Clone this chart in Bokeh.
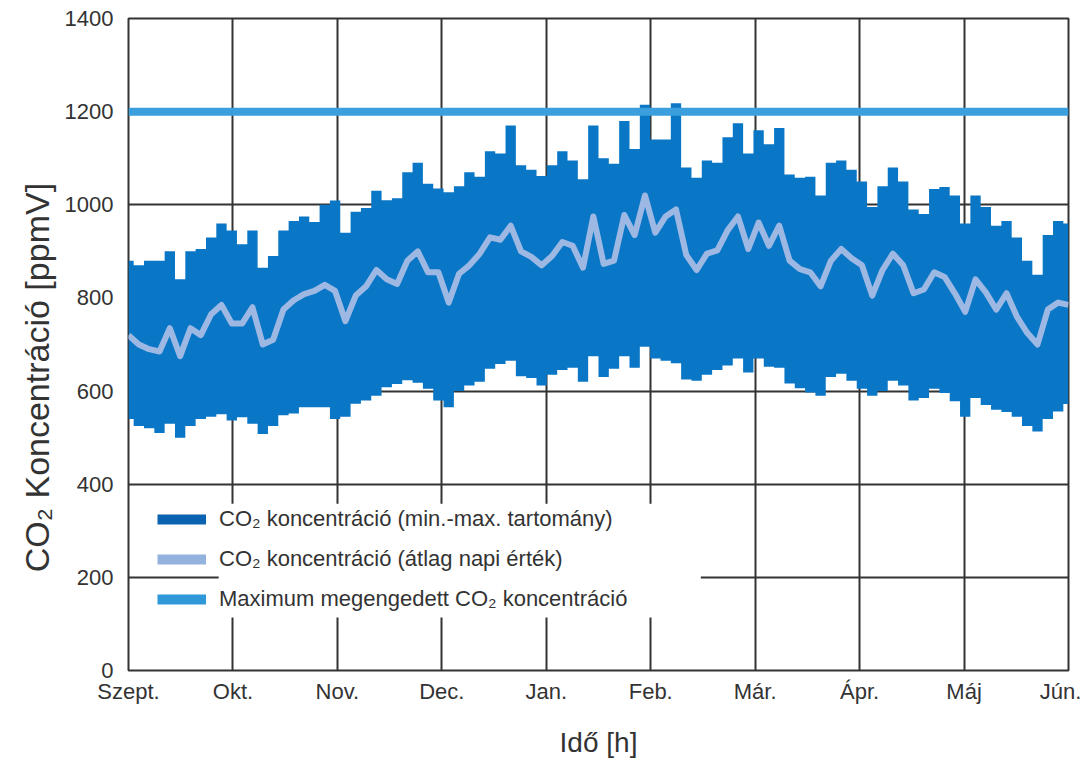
import numpy as np
from bokeh.plotting import figure
from bokeh.models import Range1d, FixedTicker, Span, Legend, LegendItem, BoxAnnotation
from bokeh.embed import file_html
from bokeh.resources import INLINE

# ---------------- data ----------------
month_labels = ["Szept.", "Okt.", "Nov.", "Dec.", "Jan.", "Feb.", "Már.", "Ápr.", "Máj", "Jún."]
hours_per_month = 730
y_ticks = [0, 200, 400, 600, 800, 1000, 1200, 1400]
limit_ppm = 1200

# upper envelope of hourly CO2 (read every ~3 days)
co2_max = [880, 870, 880, 880, 900, 840, 900, 905, 930, 960,
           945, 915, 945, 865, 890, 945, 965, 975, 963, 1000,
           1009, 940, 985, 993, 1030, 1010, 1014, 1070, 1090, 1045,
           1035, 1027, 1040, 1070, 1060, 1115, 1110, 1170, 1085, 1075,
           1062, 1085, 1115, 1095, 1055, 1170, 1100, 1088, 1180, 1120,
           1215, 1140, 1140, 1218, 1080, 1058, 1095, 1090, 1145, 1175,
           1110, 1160, 1130, 1165, 1065, 1058, 1060, 1020, 1090, 1095,
           1075, 1050, 995, 1040, 1080, 1050, 990, 980, 1034, 1038,
           1020, 960, 1020, 995, 955, 965, 930, 880, 850, 935,
           965, 960]
# lower envelope
co2_min = [540, 525, 520, 510, 530, 500, 525, 540, 545, 550,
           537, 544, 530, 508, 525, 548, 552, 565, 565, 565,
           540, 545, 573, 580, 590, 608, 615, 623, 618, 605,
           580, 565, 600, 612, 620, 648, 658, 665, 632, 628,
           612, 635, 645, 650, 620, 675, 630, 648, 675, 650,
           695, 670, 665, 660, 625, 622, 635, 645, 655, 670,
           640, 670, 652, 650, 616, 606, 597, 590, 630, 637,
           622, 605, 590, 600, 622, 612, 580, 585, 605, 596,
           578, 545, 585, 570, 560, 555, 545, 525, 513, 540,
           556, 572]
# daily mean
co2_mean = [720, 700, 690, 685, 735, 675, 735, 720, 765, 785,
            745, 745, 780, 700, 710, 775, 795, 808, 815, 828,
            815, 750, 805, 825, 860, 840, 830, 880, 900, 855,
            855, 790, 852, 870, 895, 930, 925, 955, 900, 888,
            870, 890, 920, 912, 865, 975, 873, 880, 978, 935,
            1020, 940, 975, 990, 892, 860, 895, 902, 945, 975,
            905, 962, 912, 955, 880, 862, 855, 825, 880, 905,
            885, 870, 805, 860, 895, 870, 810, 818, 855, 845,
            810, 770, 840, 812, 775, 810, 760, 725, 700, 775,
            790, 785]

n_months = len(month_labels) - 1
t_end = n_months * hours_per_month
t_hours = np.linspace(0, t_end, len(co2_max))
month_ticks = [i * hours_per_month for i in range(len(month_labels))]

# ---------------- style ----------------
FONT = "Liberation Sans"
TXT = "#333333"
GRID = "#333333"
BAND = "#0A77C6"
MEAN = "#9DB8E3"
LIMIT = "#3A9FDC"
NB = "\u00a0"

p = figure(width=1087, height=764, output_backend="svg", toolbar_location=None,
           x_range=Range1d(0, t_end), y_range=Range1d(0, 1400),
           min_border_left=128, min_border_right=19, min_border_top=18, min_border_bottom=94)
p.background_fill_color = "white"
p.border_fill_color = "white"
p.outline_line_color = GRID
p.outline_line_width = 2

# grids
p.xaxis.ticker = FixedTicker(ticks=month_ticks)
p.yaxis.ticker = FixedTicker(ticks=y_ticks)
for g in (p.xgrid, p.ygrid):
    g.grid_line_color = GRID
    g.grid_line_width = 2
    g.grid_line_alpha = 1.0

# axes
overrides = {t: lab for t, lab in zip(month_ticks, month_labels)}
overrides[month_ticks[-1]] = month_labels[-1] + NB
p.xaxis.major_label_overrides = overrides
for ax in (p.xaxis, p.yaxis):
    ax.axis_line_color = None
    ax.major_tick_line_color = None
    ax.minor_tick_line_color = None
    ax.major_tick_in = 0
    ax.major_tick_out = 0
    ax.major_label_text_font = FONT
    ax.major_label_text_font_size = "22px"
    ax.major_label_text_color = TXT
    ax.axis_label_text_font = FONT
    ax.axis_label_text_font_style = "normal"
    ax.axis_label_text_color = TXT
p.yaxis.major_label_standoff = 15
p.xaxis.major_label_standoff = 8
p.yaxis.axis_label = "CO₂ Koncentráció [ppmV]" + NB * 7
p.xaxis.axis_label = "Idő [h]"
p.yaxis.axis_label_text_font_size = "34px"
p.xaxis.axis_label_text_font_size = "28px"
p.yaxis.axis_label_standoff = 6
p.xaxis.axis_label_standoff = 20

# data
p.varea_step(x=t_hours, y1=co2_min, y2=co2_max, step_mode="center",
             fill_color=BAND, fill_alpha=1.0)
p.line(x=t_hours, y=co2_mean, line_color=MEAN, line_width=6, line_join="round")
p.add_layout(Span(location=limit_ppm, dimension="width", line_color=LIMIT, line_width=8))

# white backing behind legend text
p.add_layout(BoxAnnotation(left=630, right=4000, bottom=114, top=358,
                           fill_color="white", fill_alpha=1.0, line_color=None))

# legend swatches
r1 = p.line(x=[np.nan], y=[np.nan], line_color="#0A63B0", line_width=10)
r2 = p.line(x=[np.nan], y=[np.nan], line_color="#93B2DE", line_width=10)
r3 = p.line(x=[np.nan], y=[np.nan], line_color="#2F98D8", line_width=10)
legend = Legend(items=[
    LegendItem(label="CO₂ koncentráció (min.-max. tartomány)", renderers=[r1]),
    LegendItem(label="CO₂ koncentráció (átlag napi érték)", renderers=[r2]),
    LegendItem(label="Maximum megengedett CO₂ koncentráció", renderers=[r3]),
], location=(29, 57), glyph_width=49, glyph_height=28, label_height=28,
    spacing=12, padding=0, margin=0, label_standoff=13,
    background_fill_alpha=0, border_line_color=None,
    label_text_font=FONT, label_text_font_size="22px", label_text_color=TXT)
p.add_layout(legend)

open("out.html", "w").write(file_html(p, INLINE))
